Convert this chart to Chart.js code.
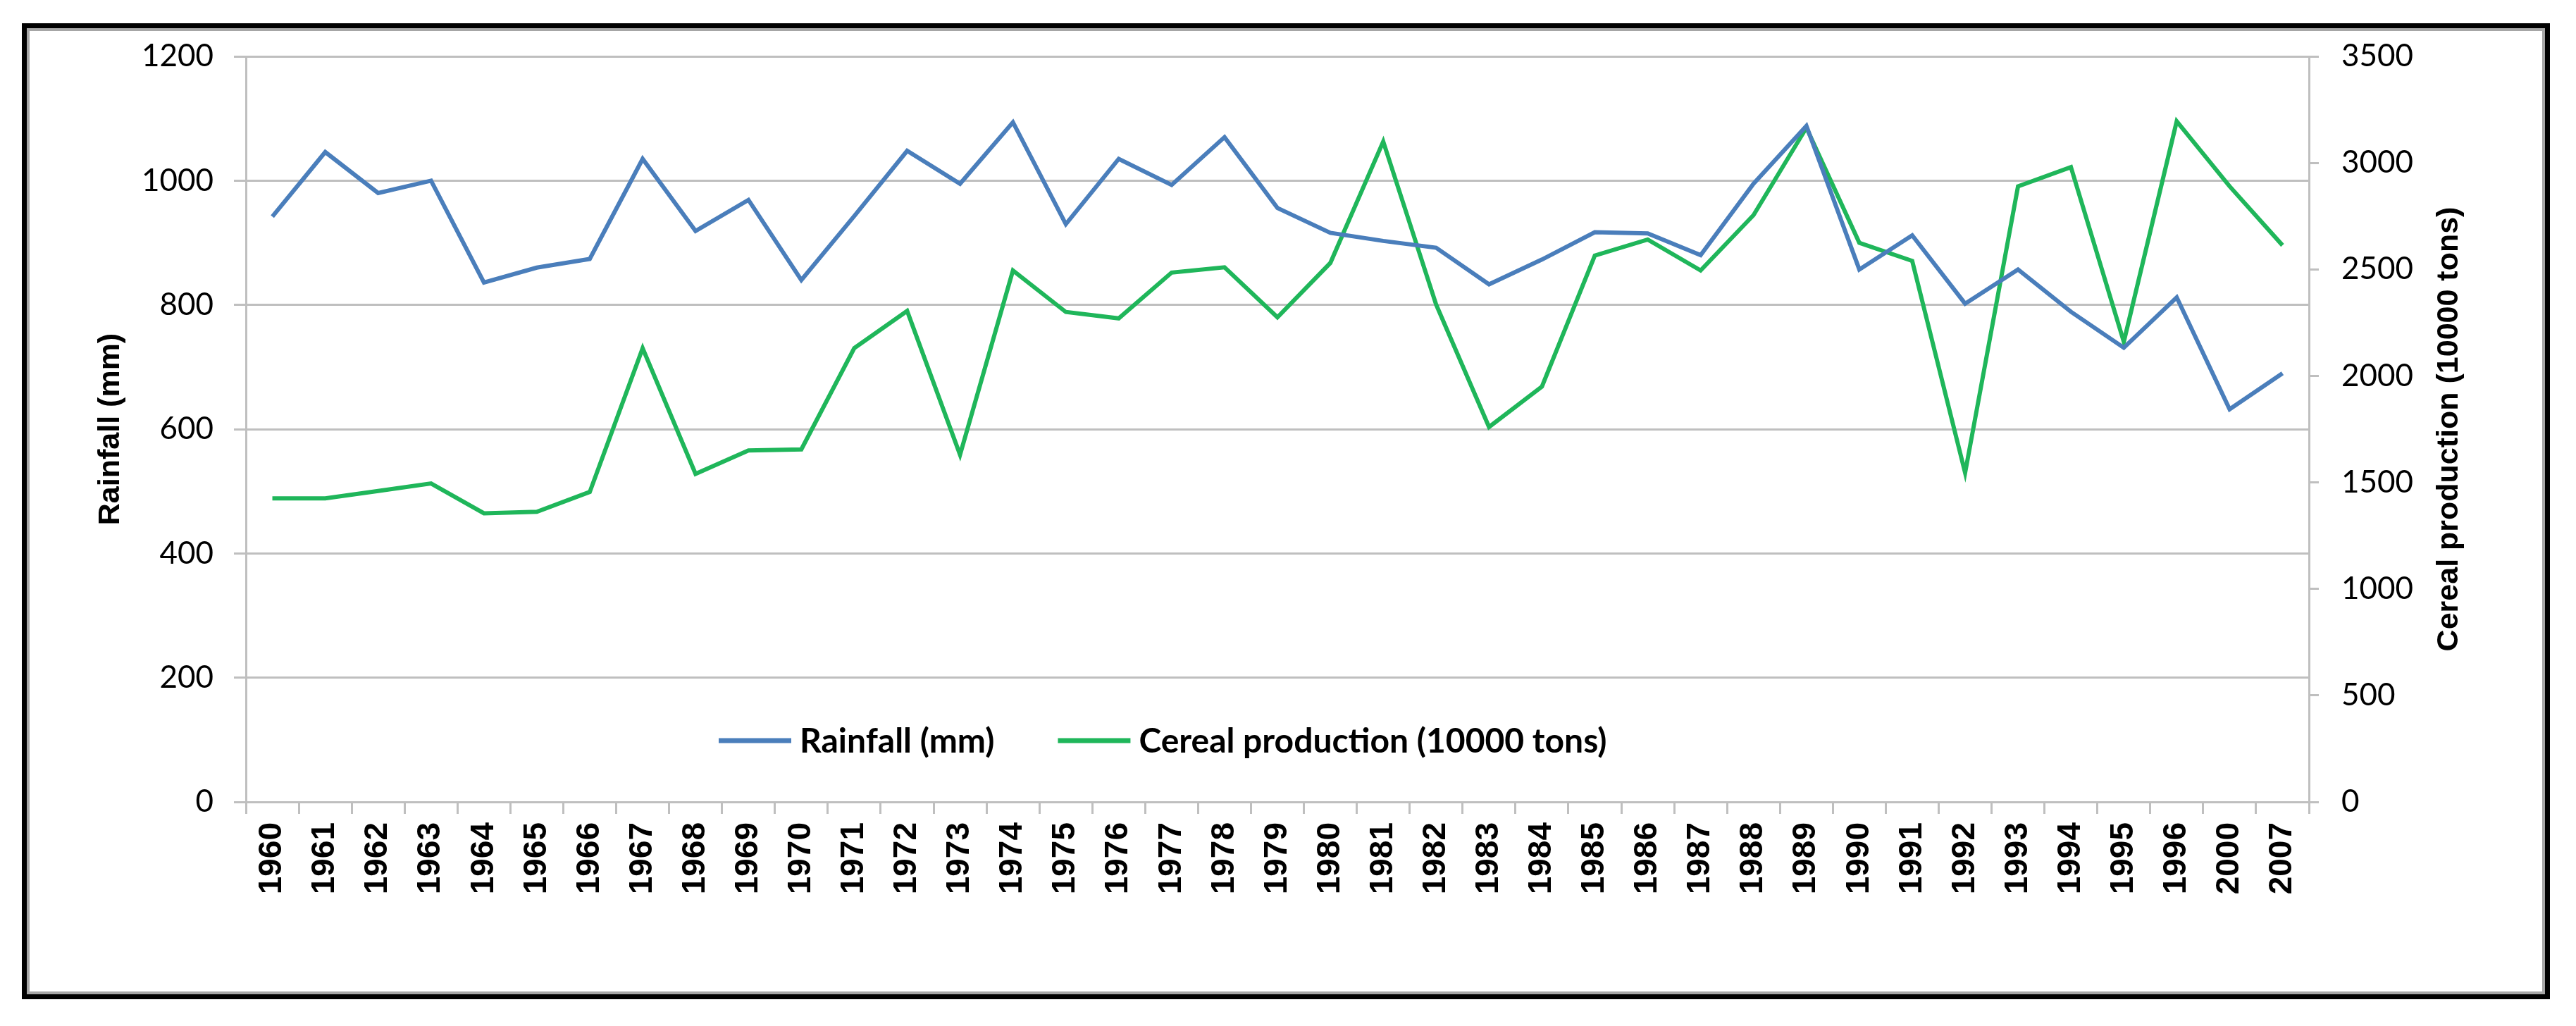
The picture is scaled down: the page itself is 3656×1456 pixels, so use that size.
<!DOCTYPE html>
<html>
<head>
<meta charset="utf-8">
<script src="https://cdn.jsdelivr.net/npm/chart.js@4.4.1/dist/chart.umd.min.js"></script>
<style>
  html, body { margin: 0; padding: 0; background: #fff; }
  #wrap { position: relative; width: 3656px; height: 1456px; }
  #rainChart { position: absolute; left: 0; top: 0; }
  #frame {
    position: absolute; left: 31px; top: 33px; width: 3588px; height: 1385px;
    box-sizing: border-box; border: 7px solid #000;
    box-shadow: inset 0 0 0 4px #a6a6a6; pointer-events: none;
  }
</style>
</head>
<body>
<div id="wrap">
  <canvas id="rainChart" width="3656" height="1456"></canvas>
  <div id="frame"></div>
</div>
<script>
  // years on the x axis (note the jump 1996 -> 2000 -> 2007)
  const years = ['1960','1961','1962','1963','1964','1965','1966','1967','1968','1969',
                 '1970','1971','1972','1973','1974','1975','1976','1977','1978','1979',
                 '1980','1981','1982','1983','1984','1985','1986','1987','1988','1989',
                 '1990','1991','1992','1993','1994','1995','1996','2000','2007'];

  // rainfall, mm (left axis)
  const rainfall = [942, 1046, 980, 1000, 836, 860, 874, 1035, 919, 969,
                    840, 943, 1048, 995, 1094, 930, 1035, 993, 1070, 956,
                    916, 903, 892, 833, 873, 917, 915, 880, 995, 1088,
                    857, 912, 802, 857, 789, 731, 812, 632, 690];

  // cereal production, 10000 tons (right axis)
  const cereal = [1425, 1425, 1460, 1495, 1355, 1362, 1455, 2130, 1540, 1650,
                  1655, 2130, 2305, 1630, 2495, 2300, 2270, 2485, 2510, 2275,
                  2530, 3100, 2335, 1760, 1950, 2565, 2640, 2495, 2755, 3165,
                  2625, 2540, 1545, 2890, 2980, 2160, 3195, 2890, 2613];

  const seriesNames = ['Rainfall (mm)', 'Cereal production (10000 tons)'];
  const rainAxisTitle = 'Rainfall (mm)';
  const cerealAxisTitle = 'Cereal production (10000 tons)';

  const gridGray = '#bfbfbf';

  // legend sits inside the plot, Excel style
  const insideLegend = {
    id: 'insideLegend',
    afterDatasetsDraw(chart, args, opts) {
      const ctx = chart.ctx;
      let x = opts.x;
      const y = opts.y;
      ctx.save();
      ctx.font = opts.font;
      ctx.textBaseline = 'middle';
      ctx.textAlign = 'left';
      chart.data.datasets.forEach(ds => {
        ctx.strokeStyle = ds.borderColor;
        ctx.lineWidth = opts.lineWidth;
        ctx.beginPath();
        ctx.moveTo(x, y);
        ctx.lineTo(x + opts.lineLen, y);
        ctx.stroke();
        x += opts.lineLen + opts.textGap;
        ctx.fillStyle = '#000';
        ctx.fillText(ds.label, x, y + 2);
        x += ctx.measureText(ds.label).width + opts.itemGap;
      });
      ctx.restore();
    }
  };

  // right axis title reads bottom-to-top like the left one
  const rightTitle = {
    id: 'rightTitle',
    afterDraw(chart, args, opts) {
      const ctx = chart.ctx;
      const area = chart.chartArea;
      ctx.save();
      ctx.translate(opts.x, (area.top + area.bottom) / 2);
      ctx.rotate(-Math.PI / 2);
      ctx.font = opts.font;
      ctx.fillStyle = '#000';
      ctx.textAlign = 'center';
      ctx.textBaseline = 'middle';
      ctx.fillText(opts.text, 0, 0);
      ctx.restore();
    }
  };

  Chart.defaults.font.family = 'Lato';
  Chart.defaults.color = '#000';

  const plainNumber = v => String(v);

  new Chart(document.getElementById('rainChart'), {
    type: 'line',
    data: {
      labels: years,
      datasets: [
        {
          label: seriesNames[0],
          data: rainfall,
          yAxisID: 'y',
          borderColor: '#4a7ebb',
          borderWidth: 6,
          pointRadius: 0,
          tension: 0,
          fill: false
        },
        {
          label: seriesNames[1],
          data: cereal,
          yAxisID: 'y1',
          borderColor: '#1fb65a',
          borderWidth: 6,
          pointRadius: 0,
          tension: 0,
          fill: false
        }
      ]
    },
    options: {
      responsive: false,
      animation: false,
      devicePixelRatio: 1,
      layout: { padding: { top: 80, left: 0, right: 0, bottom: 0 } },
      plugins: {
        legend: { display: false },
        tooltip: { enabled: false },
        insideLegend: {
          x: 1020, y: 1051, lineLen: 103, lineWidth: 7, textGap: 12, itemGap: 90,
          font: 'bold 48px Lato'
        },
        rightTitle: { x: 3476, text: cerealAxisTitle, font: 'bold 43px "Liberation Sans"' }
      },
      scales: {
        x: {
          offset: true,
          grid: { drawOnChartArea: false, drawTicks: true, tickLength: 17, offset: true, color: gridGray, lineWidth: 3 },
          border: { display: true, color: gridGray, width: 3 },
          ticks: {
            autoSkip: false, maxRotation: 90, minRotation: 90, padding: 12,
            font: { family: 'Liberation Sans', size: 46, weight: 'bold' }
          },
          afterFit(s) { s.height = 318; }
        },
        y: {
          position: 'left',
          min: 0, max: 1200,
          ticks: { stepSize: 200, padding: 29, font: { size: 44 }, callback: plainNumber },
          grid: { color: gridGray, lineWidth: 3, tickLength: 17 },
          border: { display: true, color: gridGray, width: 3 },
          title: {
            display: true, text: rainAxisTitle,
            font: { family: 'Liberation Sans', size: 43, weight: 'bold' },
            padding: { top: 131, bottom: 0 }
          },
          afterFit(s) { s.width = 349; }
        },
        y1: {
          position: 'right',
          min: 0, max: 3500,
          ticks: { stepSize: 500, padding: 32, font: { size: 44 }, callback: plainNumber },
          grid: { drawOnChartArea: false, color: gridGray, lineWidth: 3, tickLength: 14 },
          border: { display: true, color: gridGray, width: 3 },
          afterFit(s) { s.width = 379; }
        }
      }
    },
    plugins: [insideLegend, rightTitle]
  });
</script>
</body>
</html>
